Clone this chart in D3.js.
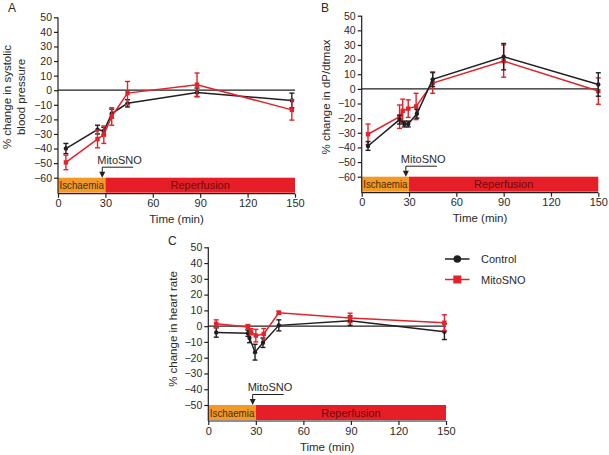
<!DOCTYPE html>
<html><head><meta charset="utf-8">
<script src="https://cdn.jsdelivr.net/npm/d3@7"></script>
<style>body{margin:0;background:#fff}svg{display:block;font-family:"Liberation Sans",Arial,sans-serif}</style>
</head><body>
<svg id="c" width="609" height="455"></svg>
<script>
// ---- Data ----
const xTicks = [0, 30, 60, 90, 120, 150];
const timesA = [5, 25, 29, 34, 44, 88, 148];
const ctrlA = [-40, -27, -28, -16, -9, -1.5, -7];
const ctrlErrA = [3.5, 3, 2.5, 3, 2.5, 3, 5];
const mitoA = [-49.5, -33.5, -30.5, -18, -2, 3.8, -13.5];
const mitoErrA = [5, 6, 6, 6, 8, 8, 7];

const timesB = [4, 24, 27, 29.5, 35, 45, 90, 150];
const ctrlB = [-39, -21, -24, -24, -17, 6.5, 22, 3];
const ctrlErrB = [3, 3, 2, 2, 3, 5, 9, 8];
const timesB2 = [4, 24, 26, 29.5, 34.5, 45, 90, 150];
const mitoB = [-31, -19, -15, -13.5, -12, 4, 19, -1.5];
const mitoErrB = [7, 8, 8, 6, 9, 7, 11, 9];

const timesC = [5, 25, 26, 29.5, 34.5, 44.5, 89.5, 149];
const ctrlC = [-4, -4.5, -7.5, -16.5, -10.5, 0.5, 3.5, -3.5];
const ctrlErrC = [3, 2, 3, 5, 3, 3.5, 3, 5];
const timesC2 = [5, 25, 27, 30, 35, 44.5, 89.5, 149];
const mitoC = [1.5, -0.5, -3.5, -6, -5, 8.5, 5.2, 2.2];
const mitoErrC = [2.5, 1.5, 2, 4, 3.5, 1, 3, 5];

const yTicksAB = [50, 40, 30, 20, 10, 0, -10, -20, -30, -40, -50, -60];
const yTicksC = [50, 40, 30, 20, 10, 0, -10, -20, -30, -40, -50];
const seriesNames = ["Control", "MitoSNO"];
const phases = [{label: "Ischaemia", from: 0, to: 30}, {label: "Reperfusion", from: 30, to: 150}];
const injectTime = 28;

// ---- Drawing ----
const BLACK = "#231f20", TXT = "#2a2a2a", RED = "#e3222a", ORANGE = "#f29a25", BARRED = "#e61e27";
const svg = d3.select("#c");

function panel(o) {
  const g = svg.append("g");
  const x = d3.scaleLinear().domain([0, 150]).range([o.x0, o.x1]);
  const y = d3.scaleLinear().domain([o.yMax, o.yMin]).range([o.yTop, o.yBot]);
  const barTop = o.yBot, barBot = o.yBot + 15, axisY = barBot + 1;

  // phase bars
  phases.forEach((p, i) => {
    g.append("rect").attr("x", x(p.from)).attr("y", barTop).attr("width", x(p.to) - x(p.from))
      .attr("height", barBot - barTop).attr("fill", i === 0 ? ORANGE : BARRED);
    const t = g.append("text").attr("x", i === 0 ? x(p.from) + 1.5 : (x(p.from) + x(p.to)) / 2)
      .attr("y", (barTop + barBot) / 2 + 4).attr("text-anchor", i === 0 ? "start" : "middle")
      .attr("font-size", 11).attr("fill", i === 0 ? "#4a2a05" : "#6e0a0a").text(p.label);
    if (i === 0) t.attr("textLength", x(p.to) - x(p.from) - 3).attr("lengthAdjust", "spacingAndGlyphs");
  });

  // y axis
  const ya = d3.axisLeft(y).tickValues(o.yTicks).tickSize(4).tickSizeOuter(0).tickFormat(d3.format("d"));
  const yg = g.append("g").attr("transform", `translate(${o.x0},0)`).call(ya);
  yg.select(".domain").remove();
  yg.append("line").attr("x1", 0).attr("x2", 0).attr("y1", o.yTop).attr("y2", axisY).attr("stroke", BLACK).attr("stroke-width", 1.2);
  yg.selectAll(".tick line").attr("stroke", BLACK).attr("stroke-width", 1.2);
  yg.selectAll(".tick text").attr("font-size", 10.5).attr("fill", TXT).attr("x", -6)
    .attr("font-family", "Liberation Sans, Arial, sans-serif");

  // x axis
  const xa = d3.axisBottom(x).tickValues(xTicks).tickSize(4).tickSizeOuter(0);
  const xg = g.append("g").attr("transform", `translate(0,${axisY})`).call(xa);
  xg.select(".domain").attr("stroke", BLACK).attr("stroke-width", 1.2).attr("d", `M${o.x0},0H${o.x1}`);
  xg.selectAll(".tick line").attr("stroke", BLACK).attr("stroke-width", 1.2);
  xg.selectAll(".tick text").attr("font-size", 11).attr("fill", TXT).attr("y", 6)
    .attr("font-family", "Liberation Sans, Arial, sans-serif");
  g.append("text").attr("x", (o.x0 + o.x1) / 2).attr("y", axisY + 29.5).attr("text-anchor", "middle")
    .attr("font-size", 11.5).attr("fill", TXT).text("Time (min)");

  // y label
  o.yLabel.forEach((t, i) => {
    g.append("text").attr("transform", `translate(${o.labelX + i * 14},${o.labelY}) rotate(-90)`)
      .attr("text-anchor", "middle").attr("font-size", 11.5).attr("fill", TXT).text(t);
  });
  g.append("text").attr("x", o.letterX).attr("y", o.letterY).attr("font-size", 12).attr("fill", TXT).text(o.letter);

  // zero line
  g.append("line").attr("x1", x(0)).attr("x2", x(150)).attr("y1", y(0)).attr("y2", y(0))
    .attr("stroke", BLACK).attr("stroke-width", 1.3);

  // MitoSNO annotation
  const ax = x(injectTime), ly = o.yBot - 10.5;
  g.append("text").attr("x", ax - 5).attr("y", ly - 3.5).attr("font-size", 11).attr("fill", TXT).text("MitoSNO");
  g.append("path").attr("d", `M${ax + 31},${ly}H${ax}V${barTop - 5}`).attr("fill", "none").attr("stroke", BLACK).attr("stroke-width", 1);
  g.append("path").attr("d", `M${ax - 3},${barTop - 6}L${ax + 3},${barTop - 6}L${ax},${barTop}Z`).attr("fill", BLACK);

  // series
  const series = [
    {t: o.tc, v: o.cv, e: o.ce, color: BLACK, shape: "circle"},
    {t: o.tm, v: o.mv, e: o.me, color: RED, shape: "square"}
  ];
  const order = o.redTop ? [0, 1] : [1, 0];
  order.forEach(k => {
    const s = series[k];
    const pts = s.t.map((t, i) => ({t, v: s.v[i], e: s.e[i]}));
    const sg = g.append("g");
    sg.append("path").datum(pts).attr("fill", "none").attr("stroke", s.color).attr("stroke-width", 1.5)
      .attr("d", d3.line().x(d => x(d.t)).y(d => y(d.v)));
    pts.forEach(d => {
      const px = x(d.t);
      sg.append("line").attr("x1", px).attr("x2", px).attr("y1", y(d.v + d.e)).attr("y2", y(d.v - d.e))
        .attr("stroke", s.color).attr("stroke-width", 1.4);
      [d.v + d.e, d.v - d.e].forEach(vv => sg.append("line").attr("x1", px - 2.5).attr("x2", px + 2.5)
        .attr("y1", y(vv)).attr("y2", y(vv)).attr("stroke", s.color).attr("stroke-width", 1.4));
      if (s.shape === "circle") sg.append("circle").attr("cx", px).attr("cy", y(d.v)).attr("r", 2.2).attr("fill", s.color);
      else sg.append("rect").attr("x", px - 2.2).attr("y", y(d.v) - 2.2).attr("width", 4.4).attr("height", 4.4).attr("fill", s.color);
    });
  });
}

panel({x0: 58, x1: 295, yTop: 17.3, yBot: 177.7, yMax: 50, yMin: -60, yTicks: yTicksAB,
  tc: timesA, cv: ctrlA, ce: ctrlErrA, tm: timesA, mv: mitoA, me: mitoErrA, redTop: true,
  yLabel: ["% change in systolic", "blood pressure"], labelX: 11, labelY: 97,
  letter: "A", letterX: 8, letterY: 12});
panel({x0: 361.7, x1: 598.3, yTop: 15.7, yBot: 176.7, yMax: 50, yMin: -60, yTicks: yTicksAB,
  tc: timesB, cv: ctrlB, ce: ctrlErrB, tm: timesB2, mv: mitoB, me: mitoErrB, redTop: false,
  yLabel: ["% change in dP/dtmax"], labelX: 330, labelY: 97,
  letter: "B", letterX: 321, letterY: 12});
panel({x0: 208.3, x1: 446, yTop: 247.3, yBot: 405, yMax: 50, yMin: -50, yTicks: yTicksC,
  tc: timesC, cv: ctrlC, ce: ctrlErrC, tm: timesC2, mv: mitoC, me: mitoErrC, redTop: true,
  yLabel: ["% change in heart rate"], labelX: 177, labelY: 329,
  letter: "C", letterX: 168, letterY: 245});

// legend
const lg = svg.append("g");
seriesNames.forEach((n, i) => {
  const ly = 259 + i * 20.5, c = i === 0 ? BLACK : RED;
  lg.append("line").attr("x1", 445).attr("x2", 469.5).attr("y1", ly).attr("y2", ly).attr("stroke", c).attr("stroke-width", 1.5);
  if (i === 0) lg.append("circle").attr("cx", 457.3).attr("cy", ly).attr("r", 3.8).attr("fill", c);
  else lg.append("rect").attr("x", 453.3).attr("y", ly - 4).attr("width", 8).attr("height", 8).attr("fill", c);
  lg.append("text").attr("x", 481).attr("y", ly + 4).attr("font-size", 11).attr("fill", TXT).text(n);
});
</script>
</body></html>
